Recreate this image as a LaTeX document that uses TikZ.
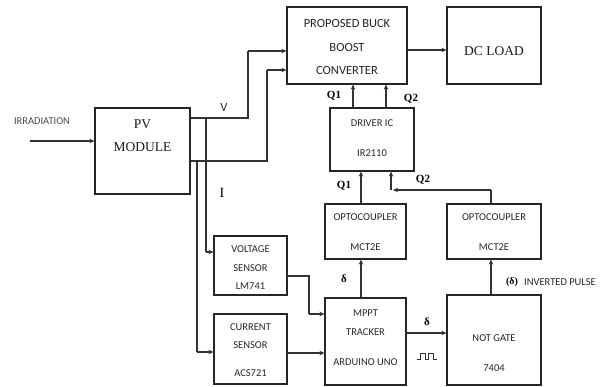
\documentclass[tikz,border=0pt]{standalone}
\usepackage{fontspec}
\setmainfont{Liberation Serif}
\newfontfamily\carlfont{Carlito}
\usetikzlibrary{arrows.meta}
\begin{document}
\begin{tikzpicture}[x=1pt,y=-1pt,
  blk/.style={draw=black!85,line width=1.1pt,inner sep=0pt},
  wire/.style={draw=black!80,line width=1.1pt},
  arr/.style={wire,-{Stealth[length=5pt,width=4.5pt]}},
  sl/.style={font=\carlfont\fontsize{10.5}{12}\selectfont,text=black!85,inner sep=0pt},
  bl/.style={font=\carlfont\fontsize{12.5}{14}\selectfont,text=black!85,inner sep=0pt},
  sf/.style={font=\fontsize{13.5}{15}\selectfont,text=black!90,inner sep=0pt},
  qq/.style={font=\bfseries\fontsize{11}{12}\selectfont,inner sep=0pt}]
\useasboundingbox (0,0) rectangle (608,387);
% boxes
\node[blk,minimum width=95pt,minimum height=86pt] (pv) at (142.5,151) {};
\node[blk,minimum width=120pt,minimum height=77pt] (bb) at (347,45.5) {};
\node[blk,minimum width=94pt,minimum height=77pt] (dc) at (494,45.5) {};
\node[blk,minimum width=84pt,minimum height=63pt] (drv) at (372,139.5) {};
\node[blk,minimum width=81pt,minimum height=55pt] (op1) at (365.5,231.5) {};
\node[blk,minimum width=94pt,minimum height=55pt] (op2) at (494,231.5) {};
\node[blk,minimum width=81pt,minimum height=87pt] (mppt) at (365.5,341.5) {};
\node[blk,minimum width=94pt,minimum height=90pt] (notg) at (494,340) {};
\node[blk,minimum width=73pt,minimum height=59pt] (vs) at (250.5,265.5) {};
\node[blk,minimum width=73pt,minimum height=70pt] (cs) at (250.5,349) {};
% box texts
\node[sf] (pvt1) at (142.5,124) {PV};
\node[sf] (pvt2) at (142.5,147) {MODULE};
\node[bl] (bbt1) at (347,23) {PROPOSED BUCK};
\node[bl] (bbt2) at (347,47) {BOOST};
\node[bl] (bbt3) at (347,70) {CONVERTER};
\node[sf] (dct) at (494,51) {DC LOAD};
\node[sl] (drt1) at (372,123) {DRIVER IC};
\node[sl] (drt2) at (372,153) {IR2110};
\node[sl] (o1t1) at (365.5,217) {OPTOCOUPLER};
\node[sl] (o1t2) at (365.5,247) {MCT2E};
\node[sl] (o2t1) at (494,217) {OPTOCOUPLER};
\node[sl] (o2t2) at (494,247) {MCT2E};
\node[sl] (mpt1) at (365.5,313) {MPPT};
\node[sl] (mpt2) at (365.5,332) {TRACKER};
\node[sl] (mpt3) at (365.5,362) {ARDUINO UNO};
\node[sl] (ngt1) at (494,338) {NOT GATE};
\node[sl] (ngt2) at (494,368) {7404};
\node[sl] (vst1) at (250.5,249) {VOLTAGE};
\node[sl] (vst2) at (250.5,268) {SENSOR};
\node[sl] (vst3) at (250.5,286) {LM741};
\node[sl] (cst1) at (250.5,327) {CURRENT};
\node[sl] (cst2) at (250.5,345) {SENSOR};
\node[sl] (cst3) at (250.5,373) {ACS721};
% labels
\node[sl,text={rgb,255:red,80;green,72;blue,72}] (irrl) at (42,121) {IRRADIATION};
\node[bl] (vl) at (224,107) {V};
\node[font=\fontsize{14}{15}\selectfont,inner sep=0pt] (il) at (222,193) {I};
\node[qq] (q1a) at (334,96) {Q1};
\node[qq] (q2a) at (411,99) {Q2};
\node[qq] (q1b) at (344,186) {Q1};
\node[qq] (q2b) at (423,180) {Q2};
\node[qq] (d1) at (344,279) {δ};
\node[qq] (d2) at (427,322) {δ};
\node[qq,font=\bfseries\fontsize{10}{12}\selectfont] (d3) at (512,282) {(δ)};
\node[sl] (invl) at (560,282) {INVERTED PULSE};
% coordinates
\coordinate (irr) at (30,141);
\coordinate (vj) at (206,118);
\coordinate (vk) at (248,118);
\coordinate (vm) at (248,51);
\coordinate (ij) at (197,161);
\coordinate (ik) at (267,161);
\coordinate (im) at (267,70);
\coordinate (vd) at (206,252);
\coordinate (id) at (197,352);
\coordinate (q1t) at (353,108);
\coordinate (q2t) at (386,108);
\coordinate (o1x) at (361,0);
\coordinate (o2c) at (491,190);
\coordinate (q2c) at (391,190);
\coordinate (vso) at (287,276);
\coordinate (vsk) at (309,276);
\coordinate (vsm) at (309,314);
\coordinate (cso) at (287,353);
\coordinate (mo) at (406,333);
\coordinate (dcy) at (0,50);
% connectors
\draw[arr] (irr) -- (irr -| pv.west);
\draw[wire] (pv.east |- vj) -- (vj) -- (vk) -- (vm);
\draw[arr] (vm) -- (vm -| bb.west);
\draw[wire] (pv.east |- ij) -- (ij) -- (ik) -- (im);
\draw[arr] (im) -- (im -| bb.west);
\draw[wire] (vj) -- (vd);
\draw[arr] (vd) -- (vd -| vs.west);
\draw[wire] (ij) -- (id);
\draw[arr] (id) -- (id -| cs.west);
\draw[arr] (bb.east |- dcy) -- (dc.west |- dcy);
\draw[arr] (q1t) -- (q1t |- bb.south);
\draw[arr] (q2t) -- (q2t |- bb.south);
\draw[arr] (o1x |- op1.north) -- (o1x |- drv.south);
\draw[wire] (op2.north -| o2c) -- (o2c);
\draw[arr] (o2c) -- ([xshift=2pt]q2c);
\draw[arr] (q2c) -- (q2c |- drv.south);
\draw[arr] (o1x |- mppt.north) -- (o1x |- op1.south);
\draw[wire] (vso) -- (vsk) -- (vsm);
\draw[arr] (vsm) -- (vsm -| mppt.west);
\draw[arr] (cso) -- (cso -| mppt.west);
\draw[arr] (mo) -- (mo -| notg.west);
\draw[arr] (o2c |- notg.north) -- (o2c |- op2.south);
% pulse
\draw[wire,line width=0.8pt] (417,359) -- (420,359) -- (420,353) -- (425,353) -- (425,359) -- (428,359) -- (428,353) -- (433,353) -- (433,359) -- (437,359);
\end{tikzpicture}
\end{document}
